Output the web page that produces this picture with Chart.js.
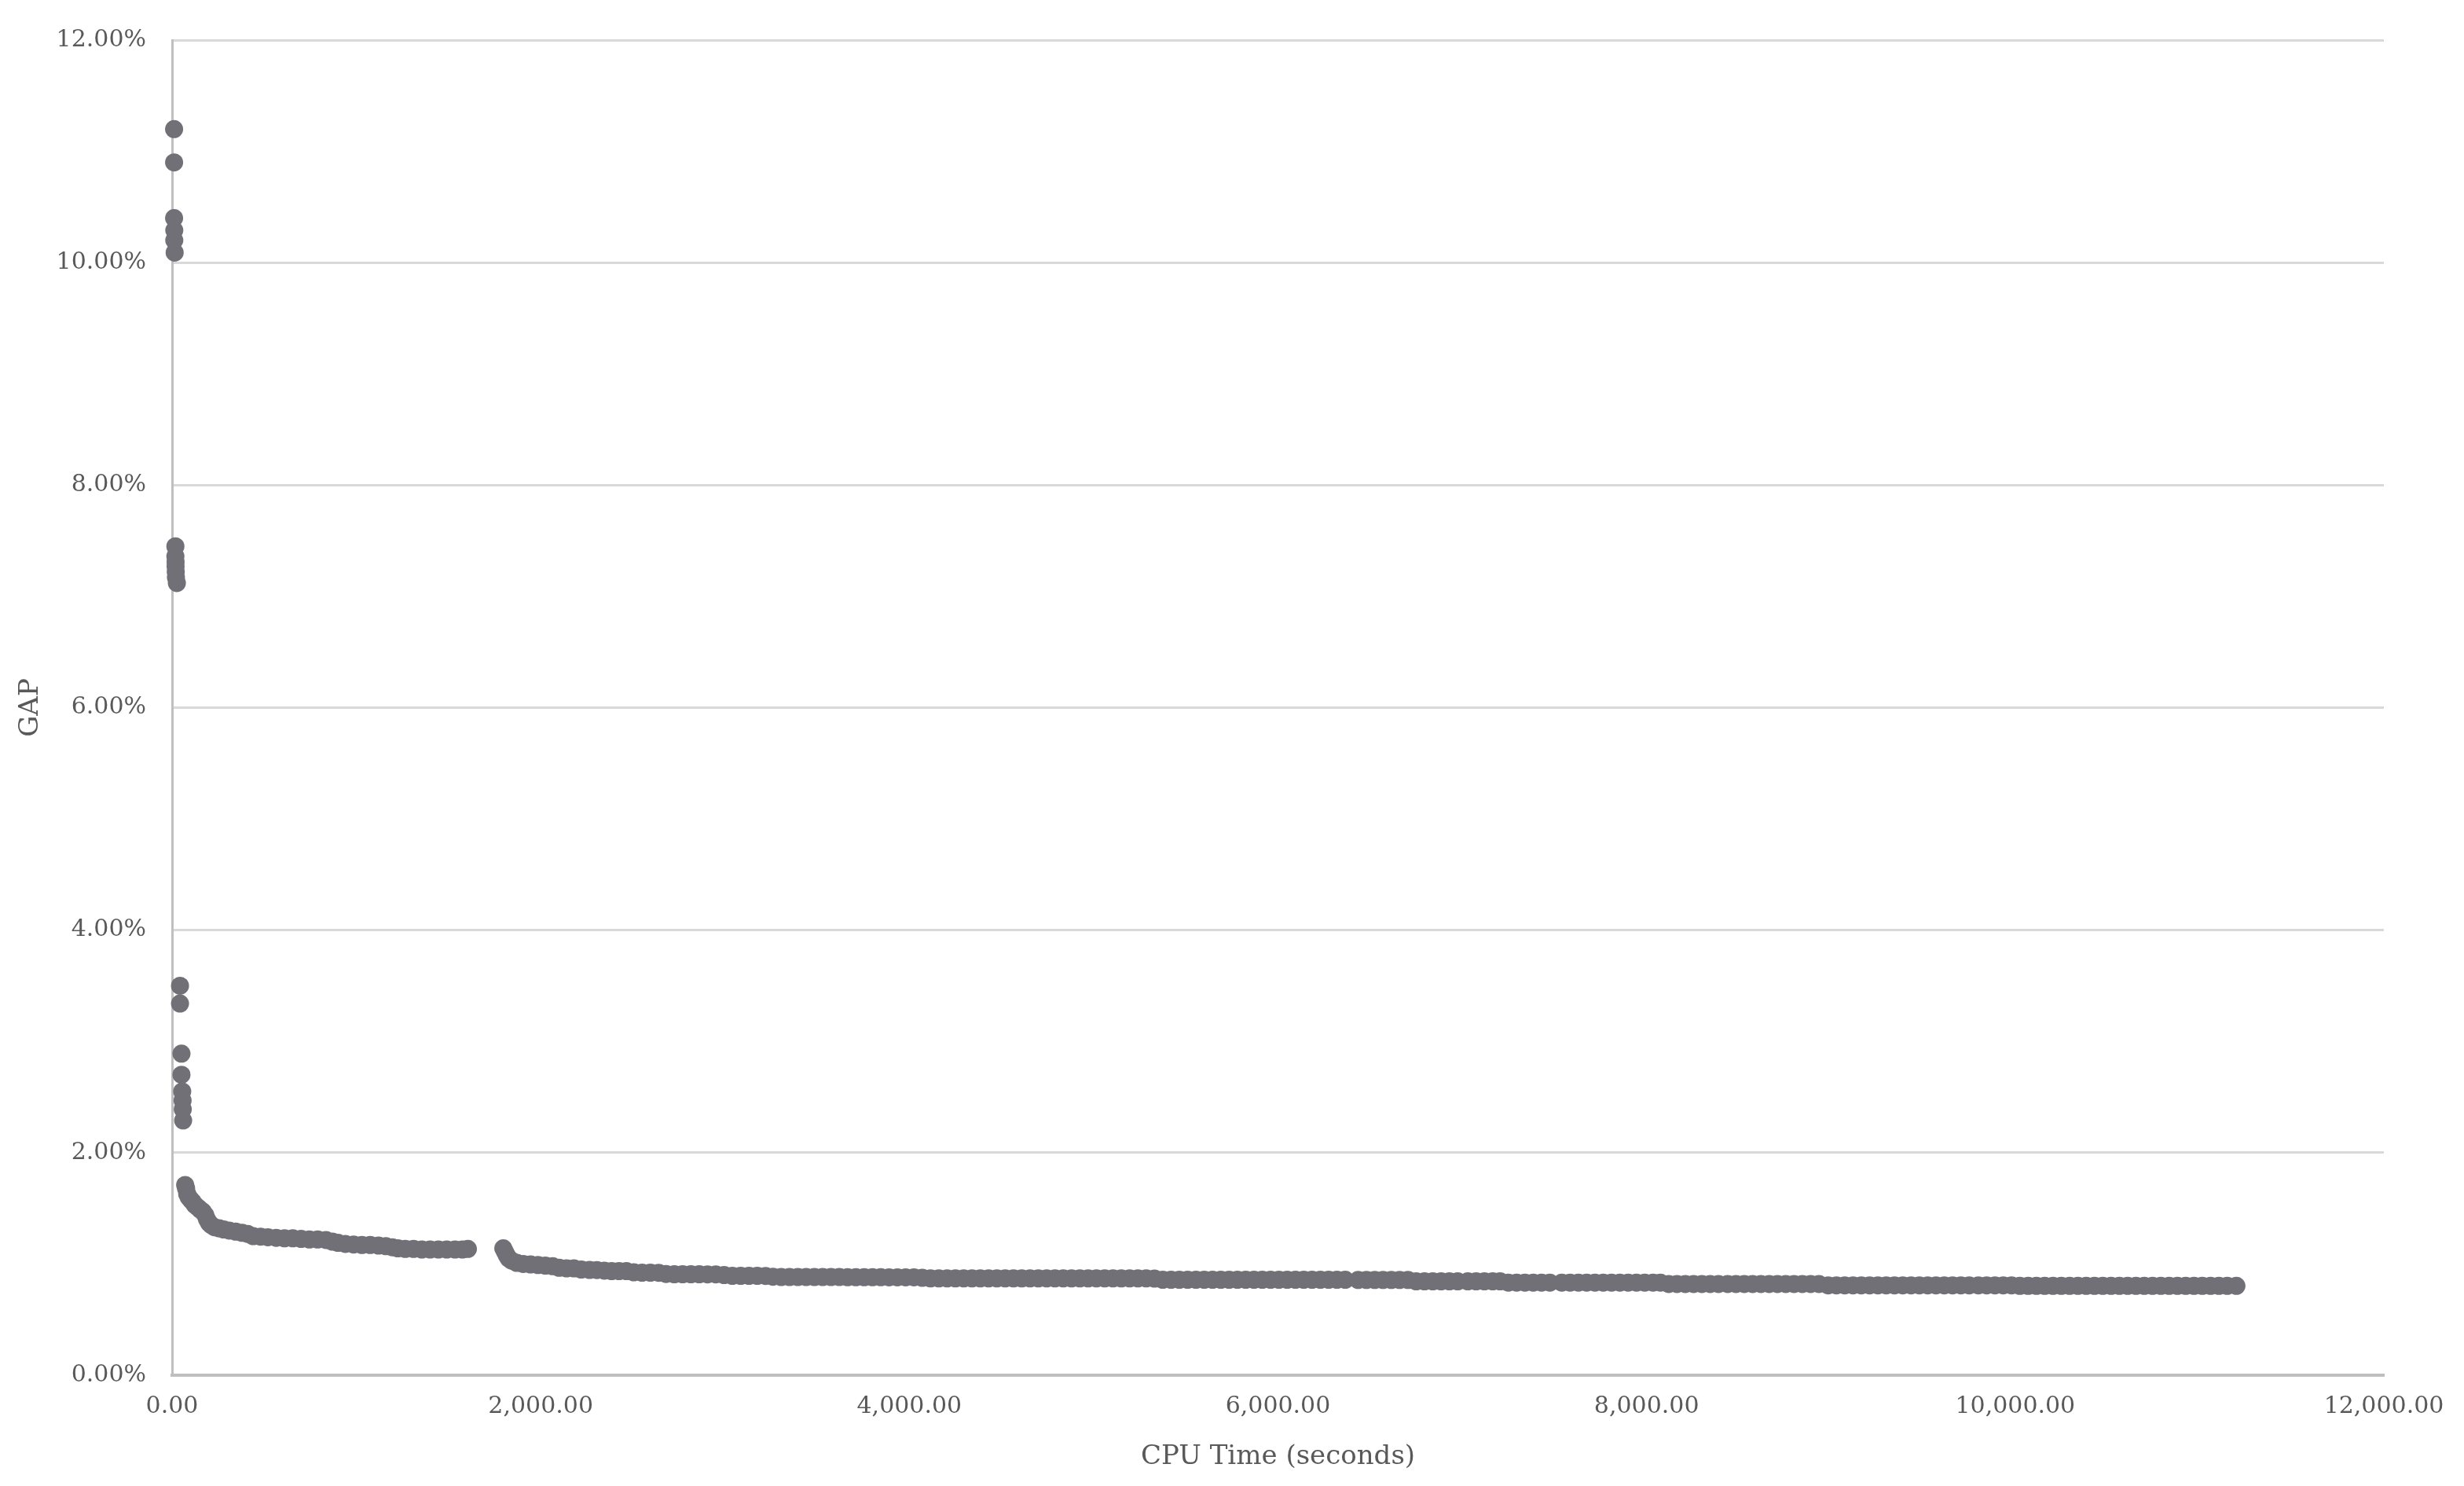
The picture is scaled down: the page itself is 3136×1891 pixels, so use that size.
<!DOCTYPE html>
<html>
<head>
<meta charset="utf-8">
<title>GAP vs CPU Time</title>
<script src="https://cdn.jsdelivr.net/npm/chart.js@4.4.0/dist/chart.umd.min.js"></script>
<style>
    html, body { margin: 0; padding: 0; background: #ffffff; }
    #chart { display: block; }
</style>
</head>
<body>
<canvas id="chart" width="3136" height="1891"></canvas>
<script>
// CPU time (seconds) of each logged solution
const cpuTime = [
    11, 11, 11, 12, 12, 14,
    18, 18, 19, 19, 20, 21, 26,
    43, 43, 51, 51, 55, 57, 58, 60,
    71, 76, 82, 90, 100, 111, 124, 138, 152, 167, 180, 190, 200, 212, 230, 255, 280, 310, 345, 380,
    410, 440, 480, 520, 565, 610, 655, 700, 745, 790, 835, 870, 900, 940, 985, 1030, 1075, 1120,
    1160, 1195, 1225, 1265, 1310, 1355, 1400, 1445, 1490, 1535, 1575, 1605,
    1797, 1806, 1815, 1826, 1842, 1870, 1905, 1945, 1985, 2025, 2065, 2100, 2140, 2180, 2220, 2265,
    2305, 2345, 2385, 2425, 2465, 2505, 2550, 2595, 2640, 2680, 2725, 2770, 2815, 2860, 2905, 2950,
    2995, 3040, 3085, 3130, 3175, 3220, 3260, 3305, 3350, 3395, 3440, 3485, 3530, 3575, 3620, 3665,
    3710, 3755, 3800, 3845, 3890, 3935, 3980, 4025, 4070, 4115, 4160, 4205, 4250, 4295, 4340, 4385,
    4430, 4475, 4520, 4565, 4610, 4655, 4700, 4745, 4790, 4835, 4880, 4925, 4970, 5015, 5060, 5105,
    5150, 5195, 5240, 5285, 5330, 5375, 5420, 5465, 5510, 5555, 5600, 5645, 5690, 5735, 5780, 5825,
    5870, 5915, 5960, 6005, 6050, 6095, 6140, 6185, 6230, 6275, 6320, 6365,
    6435, 6480, 6525, 6570, 6615, 6660, 6705, 6750, 6795, 6840, 6885, 6930, 6975, 7030, 7075, 7120,
    7165, 7205, 7250, 7295, 7340, 7385, 7430, 7475, 7540, 7585, 7630, 7675, 7720, 7765, 7810, 7855,
    7900, 7945, 7990, 8035, 8075, 8120, 8165, 8210, 8255, 8300, 8345, 8390, 8440, 8485, 8530, 8575,
    8620, 8665, 8710, 8755, 8800, 8845, 8890, 8935, 8985, 9030, 9075, 9120, 9165, 9210, 9255, 9300,
    9345, 9390, 9435, 9480, 9525, 9570, 9615, 9660, 9705, 9750, 9800, 9845, 9890, 9935, 9980, 10025,
    10070, 10115, 10160, 10205, 10250, 10295, 10340, 10385, 10430, 10475, 10520, 10565, 10610, 10655,
    10700, 10745, 10790, 10835, 10880, 10925, 10970, 11015, 11060, 11105, 11150, 11200
];

// GAP (%) at that time
const gapPct = [
    11.20, 10.90, 10.40, 10.29, 10.20, 10.09,
    7.45, 7.36, 7.31, 7.27, 7.22, 7.17, 7.12,
    3.50, 3.34, 2.89, 2.70, 2.55, 2.47, 2.39, 2.29,
    1.71, 1.68, 1.63, 1.60, 1.58, 1.56, 1.53, 1.51, 1.49, 1.47, 1.44, 1.40, 1.37, 1.35, 1.33, 1.32, 1.31, 1.30, 1.29, 1.28,
    1.27, 1.25, 1.245, 1.24, 1.235, 1.23, 1.23, 1.225, 1.22, 1.22, 1.215, 1.20, 1.19, 1.18, 1.175, 1.17, 1.17, 1.165,
    1.16, 1.15, 1.14, 1.135, 1.135, 1.13, 1.13, 1.13, 1.13, 1.13, 1.13, 1.135,
    1.14, 1.11, 1.08, 1.05, 1.03, 1.01, 1.00, 0.995, 0.99, 0.985, 0.98, 0.965, 0.96, 0.96, 0.95, 0.946,
    0.945, 0.94, 0.935, 0.935, 0.935, 0.925, 0.921, 0.921, 0.92, 0.91, 0.907, 0.907, 0.907, 0.907, 0.906, 0.906,
    0.90, 0.893, 0.893, 0.893, 0.893, 0.892, 0.885, 0.882, 0.882, 0.882, 0.882, 0.882, 0.882, 0.882, 0.882, 0.881,
    0.881, 0.881, 0.881, 0.881, 0.880, 0.880, 0.880, 0.880, 0.875, 0.870, 0.870, 0.870, 0.870, 0.870, 0.870, 0.870,
    0.870, 0.870, 0.870, 0.870, 0.870, 0.870, 0.870, 0.870, 0.870, 0.870, 0.870, 0.870, 0.870, 0.870, 0.870, 0.870,
    0.870, 0.870, 0.870, 0.870, 0.868, 0.858, 0.858, 0.858, 0.858, 0.858, 0.858, 0.858, 0.858, 0.858, 0.858, 0.858,
    0.858, 0.858, 0.858, 0.858, 0.858, 0.858, 0.858, 0.858, 0.858, 0.858, 0.858, 0.858,
    0.856, 0.856, 0.856, 0.856, 0.856, 0.856, 0.856, 0.844, 0.844, 0.844, 0.844, 0.844, 0.844, 0.844, 0.844, 0.844,
    0.844, 0.844, 0.832, 0.832, 0.832, 0.832, 0.832, 0.832, 0.832, 0.832, 0.832, 0.832, 0.832, 0.832, 0.832, 0.832,
    0.832, 0.832, 0.832, 0.832, 0.832, 0.820, 0.820, 0.820, 0.820, 0.820, 0.820, 0.820, 0.820, 0.820, 0.820, 0.820,
    0.820, 0.820, 0.820, 0.820, 0.820, 0.820, 0.820, 0.820, 0.807, 0.807, 0.807, 0.807, 0.807, 0.807, 0.807, 0.807,
    0.807, 0.807, 0.807, 0.807, 0.807, 0.807, 0.807, 0.807, 0.807, 0.807, 0.807, 0.807, 0.807, 0.807, 0.807, 0.803,
    0.803, 0.803, 0.803, 0.803, 0.803, 0.803, 0.803, 0.803, 0.803, 0.803, 0.803, 0.803, 0.803, 0.803,
    0.803, 0.803, 0.803, 0.803, 0.803, 0.803, 0.803, 0.803, 0.803, 0.803, 0.803, 0.803
];

// Axis ticks
const xTickValues = [0, 2000, 4000, 6000, 8000, 10000, 12000];
const xTickLabels = ['0.00', '2,000.00', '4,000.00', '6,000.00', '8,000.00', '10,000.00', '12,000.00'];
const yTickValues = [0, 2, 4, 6, 8, 10, 12];
const yTickLabels = ['0.00%', '2.00%', '4.00%', '6.00%', '8.00%', '10.00%', '12.00%'];

const textColor = '#595959';
const tickFont = { family: '"DejaVu Serif", "Liberation Serif", serif', size: 30 };
const titleFont = { family: '"DejaVu Serif", "Liberation Serif", serif', size: 34 };

const points = cpuTime.map((t, i) => ({ x: t, y: gapPct[i] }));

const ctx = document.getElementById('chart').getContext('2d');
new Chart(ctx, {
    type: 'scatter',
    data: {
        datasets: [{
            label: 'GAP',
            data: points,
            backgroundColor: '#717077',
            borderWidth: 0,
            pointRadius: 11.5,
            pointHoverRadius: 11.5,
            pointBorderWidth: 0,
            clip: false,
        }],
    },
    options: {
        responsive: false,
        animation: false,
        devicePixelRatio: 1,
        layout: { padding: { top: 50, right: 102, left: 0, bottom: 0 } },
        plugins: {
            legend: { display: false },
            tooltip: { enabled: false },
        },
        scales: {
            x: {
                type: 'linear',
                min: 0,
                max: 12000,
                afterBuildTicks: (scale) => { scale.ticks = xTickValues.map(v => ({ value: v })); },
                afterFit: (scale) => { scale.height = 141; },
                ticks: {
                    color: textColor,
                    font: tickFont,
                    padding: 22,
                    maxRotation: 0,
                    callback: (v, i) => xTickLabels[i],
                },
                grid: { display: false, drawTicks: false },
                border: { display: true, color: '#bfbfbf', width: 4 },
                title: {
                    display: true,
                    text: 'CPU Time (seconds)',
                    color: textColor,
                    font: titleFont,
                    padding: { top: 0, bottom: 16 },
                },
            },
            y: {
                type: 'linear',
                min: 0,
                max: 12,
                afterBuildTicks: (scale) => { scale.ticks = yTickValues.map(v => ({ value: v })); },
                afterFit: (scale) => { scale.width = 219; },
                ticks: {
                    color: textColor,
                    font: tickFont,
                    padding: 33,
                    callback: (v, i) => yTickLabels[i],
                },
                grid: { color: '#d9d9d9', lineWidth: 3, drawTicks: false },
                border: { display: true, color: '#bfbfbf', width: 3 },
                title: {
                    display: true,
                    text: 'GAP',
                    color: textColor,
                    font: titleFont,
                    padding: { top: 19, bottom: 0 },
                },
            },
        },
    },
});
</script>
</body>
</html>
